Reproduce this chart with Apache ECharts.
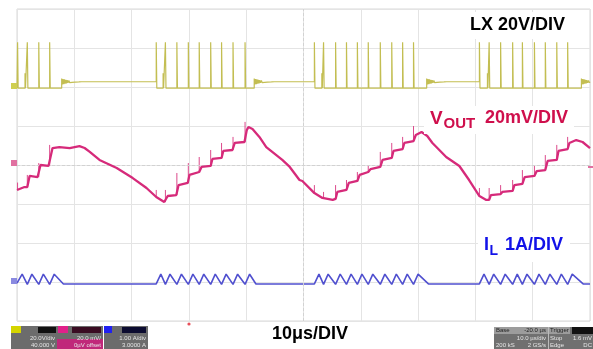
<!DOCTYPE html>
<html><head><meta charset="utf-8">
<script src="https://cdn.jsdelivr.net/npm/echarts@6/dist/echarts.min.js"></script>
<style>html,body{margin:0;padding:0;background:#fff}#c{width:593px;height:349px}</style>
</head><body><div id="c"></div>
<script>
// ---- data (time in µs, 10 µs/div) ----
// LX switch node (V): pulse times, burst end times, small blips
const lxPulseTimes = [0.1,1.8,3.8,5.7,
  24.3,25.9,27.9,29.9,31.8,33.8,35.7,37.7,39.8,
  51.9,53.5,55.6,57.5,59.4,61.3,63.4,65.4,67.3,69.2,
  80.7,82.4,84.4,86.5,88.2,90.3,92.2,94.2,96.1];
const lxBurstEnds = [7.8, 41.4, 71.5, 98.5];
const lxBlipTimes = [1.4, 25.5, 53.2, 82.1];
const lxRing = [[0,4.3],[0.12,1.3],[0.24,4.1],[0.36,1.5],[0.48,3.9],[0.6,1.7],[0.72,3.7],[0.84,1.9],[0.96,3.5],[1.1,2.1],[1.25,3.3],[1.4,2.2],[1.6,3.1],[1.8,2.4],[2.0,3.0],[2.3,2.5],[2.6,2.9],[3.0,2.6],[3.5,2.7]];
const LX_HIGH = 23, LX_LOW = -0.6, LX_IDLE = 2.7, LX_BLIP = 7;

// VOUT ripple (mV): level curve and switching spikes [t, base, top]
const voutBase = [[0,-12.8],[1.3,-11.3],[1.8,-11.3],[2.2,-5.6],[3.6,-6.2],[3.8,-6.2],[4.1,0],[5.5,-0.5],[5.7,-0.5],[6.2,8.7],[7.4,9.2],[9.2,8.7],[10.9,9.7],[11.8,8.7],[12.7,6.7],[14.4,2.6],[17.4,-1.5],[20.2,-6.7],[22.6,-11.8],[24.3,-16.4],[25.7,-19.0],[25.9,-19.0],[26.3,-15.9],[27.8,-15.4],[28.2,-10.3],[29.8,-9.2],[30.1,-5.1],[31.8,-3.6],[32.2,-1.0],[33.8,-0.5],[34.1,3.1],[35.7,3.6],[36.0,7.2],[37.6,7.7],[38.0,11.3],[39.7,11.8],[40.1,17.9],[40.4,19.5],[41.1,18.5],[42.3,14.4],[43.5,9.2],[46.3,2.6],[47.6,-1.0],[49.3,-7.7],[49.8,-8.2],[51.9,-14.4],[53.3,-16.9],[55.1,-17.9],[55.6,-17.4],[55.9,-13.8],[57.5,-12.8],[57.9,-9.2],[59.4,-8.2],[59.8,-5.1],[61.3,-3.6],[61.7,-2.1],[63.4,-1.0],[63.8,2.6],[65.4,3.6],[65.7,7.2],[67.3,8.2],[67.6,11.3],[69.2,12.3],[69.6,15.4],[70.6,16.9],[71.6,14.9],[72.5,11.3],[74.9,4.1],[77.2,-0.5],[78.9,-7.7],[80.7,-15.9],[81.9,-17.9],[82.4,-17.9],[82.7,-15.4],[84.4,-14.9],[84.7,-13.8],[86.5,-13.3],[86.8,-10.3],[88.2,-9.7],[88.6,-6.2],[90.3,-5.6],[90.7,-3.1],[92.2,-2.6],[92.6,2.1],[94.2,2.6],[94.5,7.2],[96.1,8.2],[96.4,11.3],[97.6,12.8],[98.7,11.8],[100,8.7]];
const voutSpikes = [[0.1,-12.8,-9.0],[1.8,-11.3,-5.1],[3.8,-6.2,1.0],[5.7,-0.5,10.3],
  [24.3,-16.4,-12.8],[25.9,-19.0,-12.8],[27.9,-15.4,-4.1],[29.9,-9.2,1.0],[31.8,-3.6,4.1],[33.8,-0.5,7.7],[35.7,3.6,11.3],[37.7,7.7,14.4],[39.8,11.8,22.1],
  [51.9,-14.4,-10.3],[53.5,-16.9,-13.8],[55.6,-17.4,-10.3],[57.5,-12.8,-7.7],[59.4,-8.2,-3.6],[61.3,-3.6,0],[63.4,-1.0,6.7],[65.4,3.6,11.3],[67.3,8.2,14.4],[69.2,12.3,20.0],
  [80.7,-15.9,-11.8],[82.4,-17.9,-11.8],[84.4,-14.9,-10.3],[86.5,-13.3,-7.7],[88.2,-9.7,-2.6],[90.3,-5.6,0],[92.2,-2.6,5.1],[94.2,2.6,10.3],[96.1,8.2,14.4]];

// Inductor current IL (A)
const ilPoints = [[0,-0.03],[0.1,-0.06],[0.9,0.2],[1.8,-0.06],[2.6,0.2],[3.8,-0.06],[4.6,0.2],[5.7,-0.06],[6.5,0.2],[8.1,-0.05],
  [24.3,-0.05],[25.1,0.2],[25.9,-0.06],[26.7,0.2],[27.9,-0.06],[28.7,0.2],[29.9,-0.06],[30.7,0.2],[31.8,-0.06],[32.6,0.2],[33.8,-0.06],[34.6,0.2],[35.7,-0.06],[36.5,0.2],[37.7,-0.06],[38.5,0.2],[39.8,-0.06],[40.6,0.2],[41.7,-0.05],
  [51.9,-0.05],[52.7,0.2],[53.5,-0.06],[54.3,0.2],[55.6,-0.06],[56.4,0.2],[57.5,-0.06],[58.3,0.2],[59.4,-0.06],[60.2,0.2],[61.3,-0.06],[62.1,0.2],[63.4,-0.06],[64.2,0.2],[65.4,-0.06],[66.2,0.2],[67.3,-0.06],[68.1,0.2],[69.2,-0.06],[70.0,0.2],[71.8,-0.05],
  [80.7,-0.05],[81.5,0.2],[82.4,-0.06],[83.2,0.2],[84.4,-0.06],[85.2,0.2],[86.5,-0.06],[87.3,0.2],[88.2,-0.06],[89.0,0.2],[90.3,-0.06],[91.1,0.2],[92.2,-0.06],[93.0,0.2],[94.2,-0.06],[95.0,0.2],[96.1,-0.06],[96.9,0.2],[98.8,-0.05],[100,-0.05]];

// ---- build line tables ----
const lxData = [[0, LX_LOW]];
const events = lxPulseTimes.map(t => ({t, k:'p'}))
  .concat(lxBlipTimes.map(t => ({t, k:'b'})))
  .concat(lxBurstEnds.map(t => ({t, k:'e'})))
  .sort((a, b) => a.t - b.t);
let state = 'low';
events.forEach(ev => {
  const cur = state === 'low' ? LX_LOW : LX_IDLE;
  if (ev.k === 'p') {
    lxData.push([ev.t, cur], [ev.t, LX_HIGH], [ev.t + 0.1, LX_HIGH], [ev.t + 0.1, LX_LOW]);
    state = 'low';
  } else if (ev.k === 'b') {
    lxData.push([ev.t, LX_LOW], [ev.t, LX_BLIP], [ev.t + 0.08, LX_LOW]);
  } else {
    lxData.push([ev.t, LX_LOW]);
    lxRing.forEach(r => { if (ev.t + r[0] <= 100) lxData.push([ev.t + r[0], r[1]]); });
    state = 'idle';
  }
});
lxData.push([100, state === 'low' ? LX_LOW : LX_IDLE]);

const spikeData = [];
voutSpikes.forEach(s => { spikeData.push([s[0], s[1]], [s[0], s[2]], [s[0], '-']); });

const FONT = '"Liberation Sans", Arial, sans-serif';
function txt(x, y, text, size, fill) {
  return {type:'text', z:20, style:{x, y, text, font:'bold ' + size + 'px ' + FONT, fill, verticalAlign:'middle', align:'left'}};
}
function small(x, y, text, fill, align) {
  return {type:'text', z:21, style:{x, y, text, font:'6px ' + FONT, fill: fill || '#e6e6e6', verticalAlign:'middle', align: align || 'right'}};
}
function rect(x, y, w, h, fill, z) {
  return {type:'rect', z: z || 15, shape:{x, y, width:w, height:h}, style:{fill}};
}

const chart = echarts.init(document.getElementById('c'), null, {renderer:'canvas'});
chart.setOption({
  animation: false,
  backgroundColor: '#ffffff',
  grid: {left: 17, right: 3, top: 9, bottom: 28, show: true, borderColor: '#d9d9d9', borderWidth: 1},
  xAxis: {type:'value', min:0, max:100, interval:10,
    axisLine:{show:false}, axisTick:{show:false}, axisLabel:{show:false},
    splitLine:{show:true, lineStyle:{color:'#e4e4e4', width:1}}},
  yAxis: [
    {type:'value', min:-120, max:40, interval:20,
      axisLine:{show:false}, axisTick:{show:false}, axisLabel:{show:false},
      splitLine:{show:true, lineStyle:{color:'#e4e4e4', width:1}}},
    {type:'value', min:-80, max:80, show:false},
    {type:'value', min:-1, max:7, show:false}
  ],
  series: [
    {name:'LX', type:'line', yAxisIndex:0, data:lxData, showSymbol:false, z:3,
      lineStyle:{color:'#c3be52', width:1.2}, itemStyle:{color:'#c3be52'},
      markLine:{silent:true, symbol:'none', label:{show:false},
        lineStyle:{color:'#d2d2d2', type:[3,2], width:1},
        data:[{xAxis:50},{yAxis:-40}]}},
    {name:'VOUT spikes', type:'line', yAxisIndex:1, data:spikeData, showSymbol:false, z:4,
      connectNulls:false, lineStyle:{color:'#dc4a8c', width:1}, itemStyle:{color:'#dc4a8c'}},
    {name:'VOUT', type:'line', yAxisIndex:1, data:voutBase, showSymbol:false, z:5,
      lineStyle:{color:'#d62a7a', width:2.3}, itemStyle:{color:'#d62a7a'}},
    {name:'IL', type:'line', yAxisIndex:2, data:ilPoints, showSymbol:false, z:3,
      lineStyle:{color:'#5050cf', width:1.6}, itemStyle:{color:'#5050cf'}}
  ],
  graphic: [
    rect(463, 12, 112, 27, '#ffffff'),
    txt(470, 25, 'LX 20V/DIV', 18, '#000000'),
    rect(424, 106, 150, 28, '#ffffff'),
    txt(430, 118.5, 'V', 19, '#cf0f4c'),
    txt(443.5, 124, 'OUT', 15, '#cf0f4c'),
    txt(485, 118.5, '20mV/DIV', 18, '#cf0f4c'),
    rect(478, 232, 92, 30, '#ffffff'),
    txt(484, 245, 'I', 18, '#1212e8'),
    txt(489.5, 251, 'L', 14, '#1212e8'),
    txt(505, 245, '1A/DIV', 18, '#1212e8'),
    txt(272, 334, '10\u03bcs/DIV', 18, '#000000'),
    // channel markers
    rect(11, 83, 6, 6, '#cfcf50', 16),
    rect(11, 160, 6, 6, '#e070a0', 16),
    rect(11, 278, 6, 6, '#8a8ae0', 16),
    rect(588, 166, 5, 2, '#e070a0', 16),
    {type:'circle', z:16, shape:{cx:189, cy:324, r:1.6}, style:{fill:'#e8505a'}},
    // channel info boxes
    rect(11, 326, 46, 23, '#6c6c6c'),
    rect(11, 326, 10, 7, '#d4d400', 16),
    rect(38, 327, 18, 6, '#111111', 16),
    small(55, 338, '20.0V/div'), small(55, 345, '40.000 V'),
    rect(57, 326, 46, 23, '#6c6c6c'),
    rect(57, 339, 46, 10, '#c0287a', 16),
    rect(58, 326, 10, 7, '#e0208a', 16),
    rect(72, 327, 29, 6, '#3a0c22', 16),
    small(101, 338, '20.0 mV/'), small(101, 345, '0\u00b5V offset'),
    rect(104, 326, 44, 23, '#6c6c6c'),
    rect(104, 326, 8, 7, '#2020f0', 16),
    rect(122, 327, 24, 6, '#0c0c30', 16),
    small(146, 338, '1.00 A/div'), small(146, 345, '3.0000 A'),
    rect(494, 327, 99, 22, '#707070'),
    rect(494, 327, 76, 7, '#9c9c9c', 16),
    rect(572, 327, 21, 7, '#111111', 16),
    rect(548, 327, 1, 22, '#bbbbbb', 17),
    small(496, 330.5, 'Base', '#222', 'left'), small(546, 330.5, '-20.0 \u00b5s', '#222'),
    small(550, 330.5, 'Trigger', '#222', 'left'),
    small(546, 338, '10.0 \u00b5s/div'), small(496, 345, '200 kS', '#e6e6e6', 'left'), small(546, 345, '2 GS/s'),
    small(550, 338, 'Stop', '#e6e6e6', 'left'), small(592, 338, '1.6 mV'),
    small(550, 345, 'Edge', '#e6e6e6', 'left'), small(592, 345, 'DC')
  ]
});
</script>
</body></html>
